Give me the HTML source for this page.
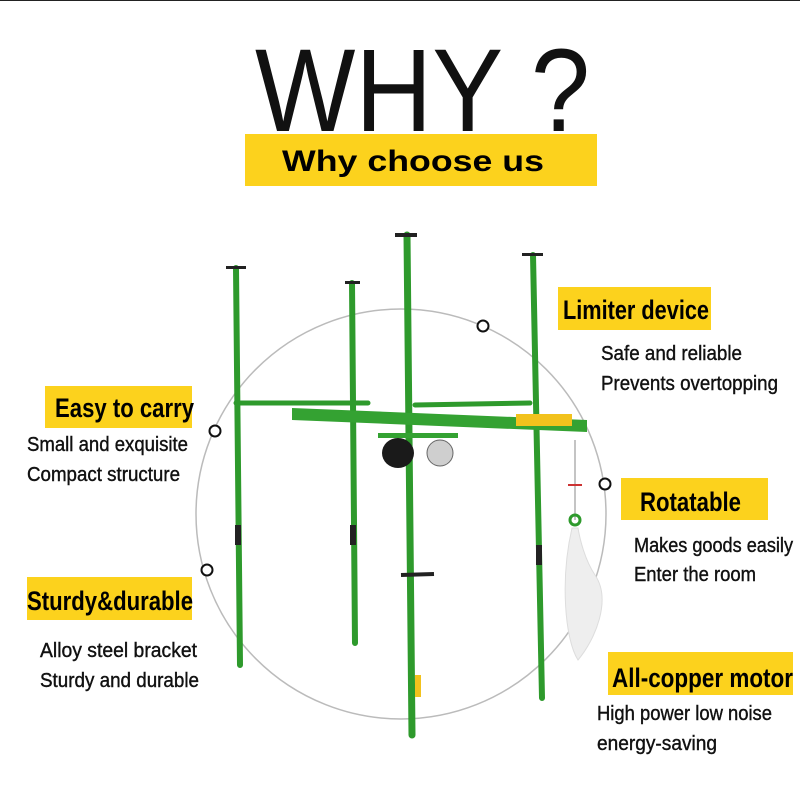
<!DOCTYPE html>
<html><head><style>
html,body{margin:0;padding:0;background:#fff;}
svg{display:block;}
.h{font-family:"Liberation Sans Narrow","Liberation Sans",sans-serif;font-weight:bold;fill:#000;}
.s{font-family:"Liberation Sans Narrow","Liberation Sans",sans-serif;fill:#111;font-size:20px;stroke:#111;stroke-width:0.4;}
</style></head><body>
<svg width="800" height="800" viewBox="0 0 800 800" xmlns="http://www.w3.org/2000/svg">
<rect width="800" height="800" fill="#fff"/>
<line x1="0" y1="0.5" x2="800" y2="0.5" stroke="#222" stroke-width="1"/>
<text x="255" y="131" font-family="Liberation Sans,sans-serif" font-size="118" fill="#111" textLength="335" lengthAdjust="spacingAndGlyphs">WHY ?</text>
<rect x="245" y="134" width="352" height="52" fill="#fcd21d"/>
<text x="282" y="171" font-family="Liberation Sans,sans-serif" font-weight="bold" font-size="30" fill="#000" textLength="262" lengthAdjust="spacingAndGlyphs">Why choose us</text>

<circle cx="401" cy="514" r="205" fill="none" stroke="#bbb" stroke-width="1.5"/>
<g fill="#fff" stroke="#111" stroke-width="2">
<circle cx="483" cy="326" r="5.5"/><circle cx="215" cy="431" r="5.5"/>
<circle cx="605" cy="484" r="5.5"/><circle cx="207" cy="570" r="5.5"/>
</g>

<g stroke="#2e9a2c" stroke-linecap="round" fill="none">
<line x1="236" y1="268" x2="240" y2="665" stroke-width="6"/>
<line x1="352" y1="283" x2="355" y2="643" stroke-width="6"/>
<line x1="407" y1="235" x2="412" y2="735" stroke-width="7"/>
<line x1="533" y1="255" x2="542" y2="698" stroke-width="6"/>
<line x1="236" y1="403" x2="368" y2="403" stroke-width="5"/>
<line x1="415" y1="405" x2="530" y2="403" stroke-width="5"/>
</g>
<g fill="#222">
<rect x="226" y="266" width="20" height="3"/><rect x="345" y="281" width="15" height="3"/>
<rect x="395" y="233" width="22" height="4"/><rect x="522" y="253" width="21" height="3"/>
<rect x="235" y="525" width="6" height="20"/><rect x="350" y="525" width="6" height="20"/><rect x="536" y="545" width="6" height="20"/>
</g>
<polygon points="292,408 587,420 587,432 292,420" fill="#34a232"/>
<rect x="516" y="414" width="56" height="12" fill="#f2c21d"/>
<rect x="378" y="433" width="80" height="5" fill="#34a232"/>
<ellipse cx="398" cy="453" rx="16" ry="15" fill="#1a1a1a"/>
<ellipse cx="440" cy="453" rx="13" ry="13" fill="#cfcfcf" stroke="#666"/>
<line x1="401" y1="575" x2="434" y2="574" stroke="#222" stroke-width="4"/>
<line x1="575" y1="440" x2="575" y2="520" stroke="#888" stroke-width="1"/>
<line x1="568" y1="485" x2="582" y2="485" stroke="#c33" stroke-width="2"/>
<circle cx="575" cy="520" r="5" fill="none" stroke="#2e9a2c" stroke-width="3"/>
<path d="M572,528 C560,580 565,640 578,660 C595,640 612,600 595,575 C585,560 580,540 578,528 Z" fill="#eee" stroke="#ddd"/>
<rect x="415" y="675" width="6" height="22" fill="#f2c21d"/>

<rect x="558" y="287" width="153" height="43" fill="#fcd21d"/>
<text class="h" x="563" y="319" font-size="27" textLength="146" lengthAdjust="spacingAndGlyphs">Limiter device</text>
<text class="s" x="601" y="360" textLength="141" lengthAdjust="spacingAndGlyphs">Safe and reliable</text>
<text class="s" x="601" y="390" textLength="177" lengthAdjust="spacingAndGlyphs">Prevents overtopping</text>

<rect x="45" y="386" width="147" height="42" fill="#fcd21d"/>
<text class="h" x="55" y="417" font-size="27" textLength="139" lengthAdjust="spacingAndGlyphs">Easy to carry</text>
<text class="s" x="27" y="451" textLength="161" lengthAdjust="spacingAndGlyphs">Small and exquisite</text>
<text class="s" x="27" y="481" textLength="153" lengthAdjust="spacingAndGlyphs">Compact structure</text>

<rect x="621" y="478" width="147" height="42" fill="#fcd21d"/>
<text class="h" x="640" y="511" font-size="27" textLength="101" lengthAdjust="spacingAndGlyphs">Rotatable</text>
<text class="s" x="634" y="552" textLength="159" lengthAdjust="spacingAndGlyphs">Makes goods easily</text>
<text class="s" x="634" y="581" textLength="122" lengthAdjust="spacingAndGlyphs">Enter the room</text>

<rect x="27" y="577" width="165" height="43" fill="#fcd21d"/>
<text class="h" x="27" y="610" font-size="27" textLength="166" lengthAdjust="spacingAndGlyphs">Sturdy&amp;durable</text>
<text class="s" x="40" y="657" textLength="157" lengthAdjust="spacingAndGlyphs">Alloy steel bracket</text>
<text class="s" x="40" y="687" textLength="159" lengthAdjust="spacingAndGlyphs">Sturdy and durable</text>

<rect x="608" y="652" width="185" height="43" fill="#fcd21d"/>
<text class="h" x="612" y="687" font-size="27" textLength="181" lengthAdjust="spacingAndGlyphs">All-copper motor</text>
<text class="s" x="597" y="720" textLength="175" lengthAdjust="spacingAndGlyphs">High power low noise</text>
<text class="s" x="597" y="750" textLength="120" lengthAdjust="spacingAndGlyphs">energy-saving</text>
</svg>
</body></html>
